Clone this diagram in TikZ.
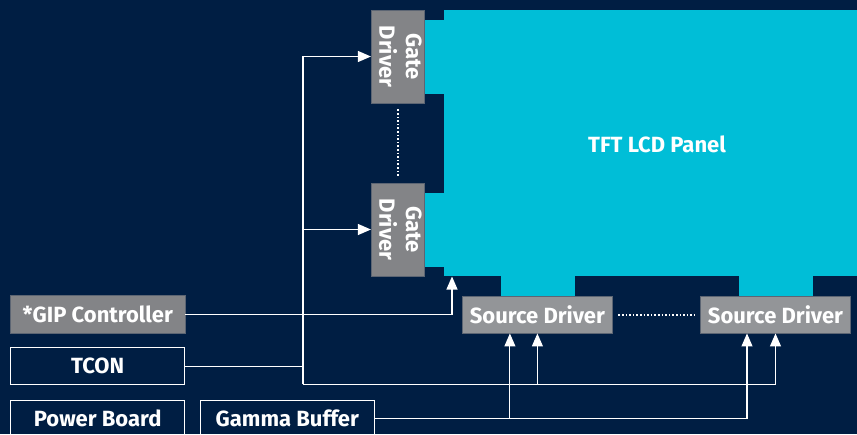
\documentclass[tikz,border=0pt]{standalone}
\usepackage{fontspec}
\setmainfont{Fira Sans}
\usetikzlibrary{shapes,arrows,arrows.meta,positioning,calc}
\definecolor{navy}{HTML}{001E43}
\definecolor{panelcyan}{HTML}{00BED7}
\definecolor{drvgray}{HTML}{838487}
\definecolor{srcgray}{HTML}{939598}
\definecolor{edgegray}{HTML}{5C6573}
\tikzset{
  lbl/.style={text=white,inner sep=0pt,font=\fontsize{22}{26.7}\selectfont\bfseries},
  gatebox/.style={lbl,fill=drvgray,draw=edgegray,line width=0.8pt,minimum width=52.6pt,minimum height=93pt},
  srcbox/.style={lbl,fill=srcgray,draw=edgegray,line width=0.8pt,minimum width=149.3pt,minimum height=36.3pt},
  ctrlbox/.style={lbl,fill=drvgray,draw=edgegray,line width=0.8pt,minimum width=174.3pt,minimum height=38pt},
  outbox/.style={lbl,draw=white,line width=1pt,minimum width=174pt,minimum height=37pt},
  wire/.style={white,line width=1.1pt},
  gap/.style={white,dotted,line width=1.6pt,shorten >=6pt,shorten <=6pt}
}

\begin{document}
\begin{tikzpicture}[x=1pt,y=-1pt,>={Triangle[length=13pt,width=11pt]}]
  \fill[navy] (0,0) rectangle (857,434);
  \useasboundingbox (0,0) rectangle (857,434);
  % panel and its tabs
  \fill[panelcyan] (444,10) rectangle (857,276);
  \fill[panelcyan] (424,20) rectangle (444,94);
  \fill[panelcyan] (424,193) rectangle (444,267);
  \fill[panelcyan] (501,276) rectangle (575,297);
  \fill[panelcyan] (739,276) rectangle (813,297);
  \node[lbl] (panel) at (657,144) {TFT LCD Panel};
  % drivers
  \node[gatebox] (gd1) at (398,56.5) {\rotatebox{-90}{\begin{tabular}{@{}c@{}}Gate\\Driver\end{tabular}}};
  \node[gatebox] (gd2) at (398,229.5) {\rotatebox{-90}{\begin{tabular}{@{}c@{}}Gate\\Driver\end{tabular}}};
  \node[srcbox] (sd1) at (537.4,314.9) {Source Driver};
  \node[srcbox] (sd2) at (775.5,314.9) {Source Driver};
  % boards
  \node[ctrlbox] (gip) at (97.8,314.2) {*GIP Controller};
  \node[outbox] (tcon) at (97.7,366.2) {TCON};
  \node[outbox] (power) at (97.7,418.5) {Power Board};
  \node[outbox] (gamma) at (287.3,418.5) {Gamma Buffer};
  % wires
  \coordinate (bus) at (303,384.3);
  \coordinate (gipin) at (452,276.5);
  \coordinate (g1) at ($(sd1.south)+(-27.5,0)$);
  \coordinate (g2) at ($(sd2.south)+(-28.5,0)$);
  \draw[wire] (tcon.east) -- (tcon.east -| bus);
  \draw[wire,->] (bus) |- (gd1.west);
  \draw[wire,->] (bus |- gd2.west) -- (gd2.west);
  \draw[wire,->] (bus) -| (sd2.south);
  \draw[wire,->] (bus -| sd1.south) -- (sd1.south);
  \draw[wire,->] (gip.east) -| (gipin);
  \draw[wire,->] (gamma.east) -| (g2);
  \draw[wire,->] (gamma.east -| g1) -- (g1);
  \draw[gap] (gd1.south) -- (gd2.north);
  \draw[gap] (sd1.east) -- (sd2.west);
\end{tikzpicture}
\end{document}
